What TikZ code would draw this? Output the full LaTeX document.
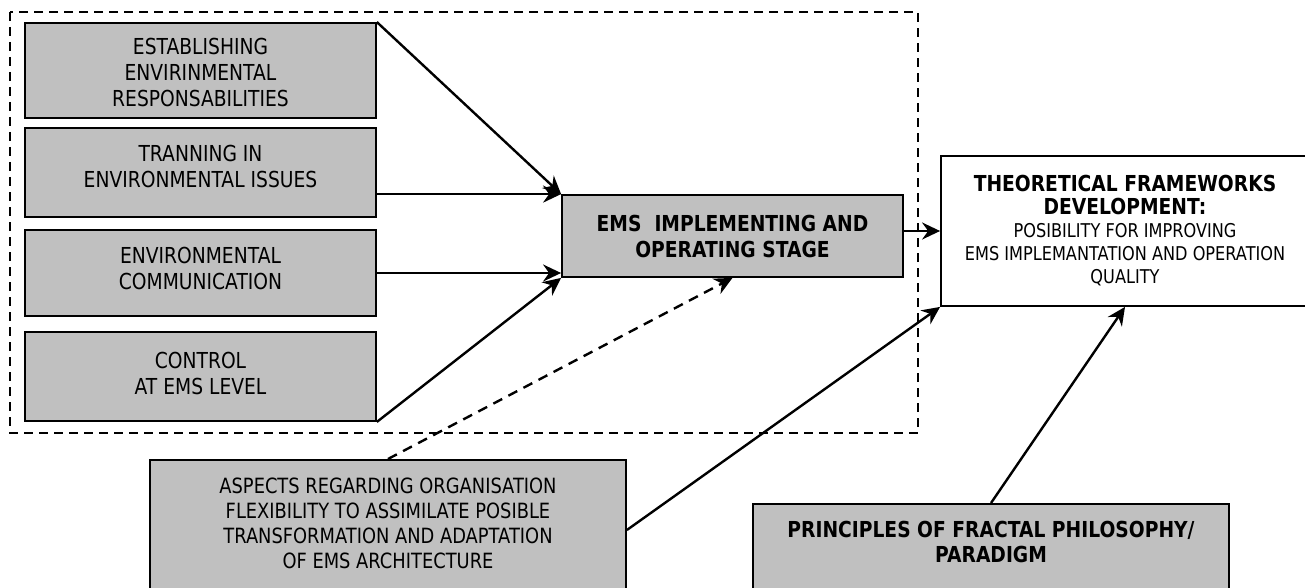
\documentclass[tikz,border=0pt]{standalone}
\usepackage{fontspec}
\setmainfont{DejaVu Sans}[FakeStretch=0.85]
\usetikzlibrary{arrows.meta}

\definecolor{boxgray}{HTML}{C0C0C0}

\tikzset{
box/.style={draw, line width=1.8pt, fill=boxgray, align=center,
  inner sep=0pt, font=\fontsize{22}{26}\selectfont},
arr/.style={line width=2.4pt,
  -{Stealth[length=18pt,width=17pt,inset=6pt]}},
group/.style={line width=1.6pt, dash pattern=on 9pt off 6pt}
}

\begin{document}
\begin{tikzpicture}[x=1pt,y=-1pt]

\useasboundingbox (0,0) rectangle (1305,588);
\clip (0,0) rectangle (1305,588);

% Group
\draw[group] (10,12) rectangle (918,433);

\node[box, minimum width=351pt, minimum height=95pt,
text height=84pt, text depth=11pt]
(b1) at (200.5,70.5)
{ESTABLISHING\\ENVIRINMENTAL\\RESPONSABILITIES};

\node[box, minimum width=351pt, minimum height=89pt,
text height=59pt, text depth=30pt]
(b2) at (200.5,172.5)
{TRANNING IN\\ENVIRONMENTAL ISSUES};

\node[box, minimum width=351pt, minimum height=86pt,
text height=59pt, text depth=27pt]
(b3) at (200.5,273)
{ENVIRONMENTAL\\COMMUNICATION};

\node[box, minimum width=351pt, minimum height=89pt,
text height=62pt, text depth=27pt]
(b4) at (200.5,376.5)
{CONTROL\\AT EMS LEVEL};

% Stage
\node[box, minimum width=341pt, minimum height=82pt,
font=\bfseries\fontsize{22}{26}\selectfont]
(ems) at (732.5,236)
{EMS\ \ IMPLEMENTING AND\\OPERATING STAGE};

% Frameworks
\node[box, fill=white, minimum width=368pt, minimum height=150pt,
font=\fontsize{19}{23}\selectfont]
(theory) at (1125,231)
{{\bfseries\fontsize{22}{26}\selectfont THEORETICAL FRAMEWORKS}\\
{\bfseries\fontsize{22}{26}\selectfont DEVELOPMENT:}\\
POSIBILITY FOR IMPROVING\\
EMS IMPLEMANTATION AND OPERATION\\
QUALITY};

% Aspects
\node[box, anchor=north, minimum width=476pt, inner ysep=18pt,
text depth=80pt, font=\fontsize{21}{25}\selectfont]
(asp) at (388,459)
{ASPECTS REGARDING ORGANISATION\\
FLEXIBILITY TO ASSIMILATE POSIBLE\\
TRANSFORMATION AND ADAPTATION\\
OF EMS ARCHITECTURE};

% Fractal
\node[box, anchor=north, minimum width=476pt, inner ysep=17pt,
text depth=70pt, font=\bfseries\fontsize{22}{25}\selectfont]
(frac) at (991,503)
{PRINCIPLES OF FRACTAL PHILOSOPHY/\\PARADIGM};

% Arrows
\draw[arr] (b1.north east) -- (ems.north west);
\draw[arr] (b2.east |- ems.north west) -- (ems.north west);
\draw[arr] (b3.east) -- (ems.west |- b3.east);
\draw[arr] (b4.south east) -- (ems.south west);
\draw[arr, dash pattern=on 10pt off 7pt] (asp.north) -- (ems.south);
\draw[arr] (ems.east |- theory.west) -- (theory.west);
\draw[arr] ([yshift=-71pt]asp.north east) -- (theory.south west);
\draw[arr] (frac.north) -- (theory.south);

\end{tikzpicture}
\end{document}
